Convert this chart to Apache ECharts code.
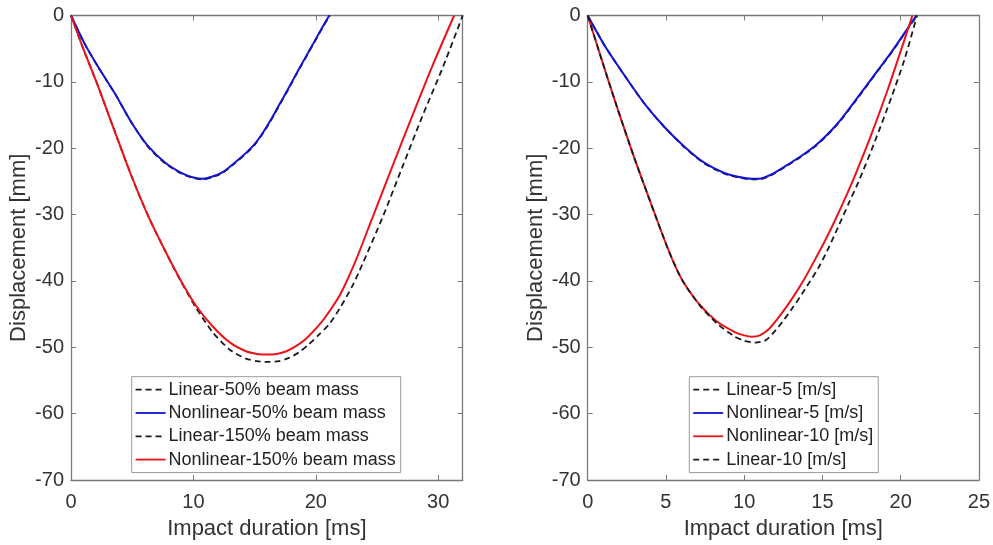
<!DOCTYPE html>
<html>
<head>
<meta charset="utf-8">
<script src="https://cdn.jsdelivr.net/npm/echarts@6/dist/echarts.min.js"></script>
<style>
html,body{margin:0;padding:0;background:#fff;}
#chart{width:993px;height:545px;}
</style>
</head>
<body>
<div id="chart"></div>
<script>
// ---- Data (t [ms], displacement [mm]) ----
const xTicksLeft = [0, 10, 20, 30];
const xTicksRight = [0, 5, 10, 15, 20, 25];
const yTicks = [0, -10, -20, -30, -40, -50, -60, -70];

const leftNames = ['Linear-50% beam mass', 'Nonlinear-50% beam mass', 'Linear-150% beam mass', 'Nonlinear-150% beam mass'];
const rightNames = ['Linear-5 [m/s]', 'Nonlinear-5 [m/s]', 'Nonlinear-10 [m/s]', 'Linear-10 [m/s]'];

const linear50 = [[0,0],[1.1,-4.2],[2.2,-7.7],[3.6,-11.8],[4.9,-16.0],[6.3,-19.8],[7.7,-22.3],[9.0,-23.8],[10.0,-24.5],[10.8,-24.7],[11.5,-24.4],[12.4,-23.7],[13.3,-22.4],[14.3,-20.8],[15.0,-19.5],[15.7,-17.7],[16.4,-15.6],[17.0,-13.6],[17.7,-11.3],[18.4,-8.9],[19.1,-6.6],[19.8,-4.3],[20.5,-2.0],[21.15,0]];
const nonlinear50 = [[0,0],[1.1,-4.2],[2.2,-7.7],[3.6,-11.8],[4.9,-16.0],[6.3,-19.7],[7.7,-22.2],[9.0,-23.7],[10.0,-24.4],[10.8,-24.6],[11.5,-24.3],[12.4,-23.6],[13.3,-22.3],[14.3,-20.7],[15.0,-19.4],[15.7,-17.6],[16.4,-15.5],[17.0,-13.5],[17.7,-11.2],[18.4,-8.8],[19.1,-6.5],[19.8,-4.2],[20.5,-1.9],[21.1,0]];
const linear150 = [[0,0],[1.0,-5.0],[2.2,-10.6],[3.6,-17.6],[4.9,-24.0],[6.3,-30.2],[7.7,-35.5],[8.9,-39.8],[10.2,-44.0],[11.6,-47.8],[13.0,-50.4],[14.3,-51.7],[15.2,-52.1],[16.2,-52.2],[17.0,-52.1],[17.8,-51.6],[18.6,-50.8],[19.4,-49.6],[20.2,-48.2],[21.1,-46.5],[22.0,-44.0],[23.0,-40.7],[23.8,-37.5],[25.5,-30.2],[27.1,-22.7],[28.7,-15.2],[30.4,-7.7],[32.0,0]];
const nonlinear150 = [[0,0],[1.0,-5.0],[2.2,-10.6],[3.6,-17.6],[4.9,-24.0],[6.3,-30.2],[7.7,-35.5],[8.9,-39.7],[10.2,-43.7],[11.6,-46.9],[13.0,-49.3],[14.3,-50.6],[15.2,-51.0],[16.0,-51.1],[16.8,-51.0],[17.6,-50.6],[18.4,-49.8],[19.2,-48.7],[20.0,-47.2],[20.8,-45.4],[22.0,-42.0],[23.2,-37.2],[24.6,-30.6],[26.2,-23.0],[27.8,-15.5],[29.5,-7.7],[31.3,0]];

const linear5 = [[0,0],[1.1,-4.6],[2.4,-9.2],[3.6,-13.2],[4.9,-16.8],[6.2,-19.9],[7.4,-22.2],[8.7,-23.8],[9.6,-24.4],[10.5,-24.7],[10.94,-24.7],[11.7,-24.1],[12.63,-22.8],[13.5,-21.5],[14.5,-19.8],[15.2,-18.3],[16.0,-16.3],[16.6,-14.5],[17.3,-12.3],[17.9,-10.4],[18.56,-8.3],[19.2,-6.3],[19.8,-4.3],[20.4,-2.2],[21.05,0]];
const nonlinear5 = [[0,0],[1.1,-4.6],[2.4,-9.2],[3.6,-13.2],[4.9,-16.8],[6.2,-19.8],[7.4,-22.1],[8.7,-23.7],[9.6,-24.3],[10.5,-24.6],[10.94,-24.6],[11.7,-24.0],[12.63,-22.7],[13.5,-21.4],[14.5,-19.7],[15.2,-18.2],[16.0,-16.2],[16.6,-14.4],[17.3,-12.2],[17.9,-10.3],[18.56,-8.2],[19.2,-6.2],[19.8,-4.2],[20.4,-2.1],[21.0,0]];
const nonlinear10 = [[0,0],[0.9,-6.7],[1.9,-14.0],[3.0,-21.6],[4.1,-28.7],[5.1,-35.0],[5.7,-38.3],[6.2,-40.5],[7.2,-43.7],[8.3,-46.2],[9.4,-47.7],[10.0,-48.2],[10.5,-48.4],[11.0,-48.2],[11.6,-47.2],[12.3,-45.2],[13.05,-42.7],[13.8,-39.9],[14.5,-36.9],[15.2,-33.8],[15.8,-30.9],[16.5,-27.3],[17.1,-24.0],[18.1,-18.1],[19.2,-11.0],[20.0,-5.4],[20.75,0]];
const linear10 = [[0,0],[0.9,-6.7],[1.9,-14.0],[3.0,-21.6],[4.1,-28.7],[5.1,-35.0],[5.7,-38.3],[6.2,-40.5],[7.2,-43.8],[8.3,-46.5],[9.4,-48.4],[10.0,-49.0],[10.7,-49.3],[11.4,-48.9],[12.2,-46.9],[13.05,-44.2],[13.9,-41.2],[14.75,-38.0],[15.4,-35.0],[16.0,-31.9],[16.7,-28.2],[17.3,-25.1],[18.35,-19.0],[19.4,-12.4],[20.25,-6.6],[21.05,0]];

// ---- Styles ----
const FONT = "'Liberation Sans', Arial, Helvetica, sans-serif";
const AXIS_COLOR = '#7a7a7a';
const TEXT_COLOR = '#333333';
const BLUE = '#1212d0';
const RED = '#ea1418';
const BLACK = '#1a1a1a';

function xAxisMain(gridIndex, max, interval, ticks) {
  return {
    type: 'value', gridIndex, position: 'bottom', min: 0, max, interval,
    name: 'Impact duration [ms]', nameLocation: 'middle', nameGap: 38,
    nameTextStyle: { fontFamily: FONT, fontSize: 22, color: TEXT_COLOR },
    axisLine: { show: true, onZero: false, lineStyle: { color: AXIS_COLOR, width: 1.3 } },
    axisTick: { show: true, inside: true, length: 5, lineStyle: { color: AXIS_COLOR } },
    axisLabel: { show: true, margin: 12, fontFamily: FONT, fontSize: 20, color: TEXT_COLOR,
      formatter: v => ticks.indexOf(v) >= 0 ? String(v) : '' },
    splitLine: { show: false }
  };
}
function xAxisTop(gridIndex, max, interval) {
  return {
    type: 'value', gridIndex, position: 'top', min: 0, max, interval,
    axisLine: { show: true, onZero: false, lineStyle: { color: AXIS_COLOR, width: 1.3 } },
    axisTick: { show: true, inside: true, length: 5, lineStyle: { color: AXIS_COLOR } },
    axisLabel: { show: false }, splitLine: { show: false }
  };
}
function yAxisMain(gridIndex) {
  return {
    type: 'value', gridIndex, position: 'left', min: -70, max: 0, interval: 10,
    name: 'Displacement [mm]', nameLocation: 'middle', nameGap: 41,
    nameTextStyle: { fontFamily: FONT, fontSize: 22, color: TEXT_COLOR },
    axisLine: { show: true, onZero: false, lineStyle: { color: AXIS_COLOR, width: 1.3 } },
    axisTick: { show: true, inside: true, length: 5, lineStyle: { color: AXIS_COLOR } },
    axisLabel: { show: true, margin: 7, fontFamily: FONT, fontSize: 20, color: TEXT_COLOR,
      formatter: v => yTicks.indexOf(v) >= 0 ? String(v) : '' },
    splitLine: { show: false }
  };
}
function yAxisRight(gridIndex) {
  return {
    type: 'value', gridIndex, position: 'right', min: -70, max: 0, interval: 10,
    axisLine: { show: true, onZero: false, lineStyle: { color: AXIS_COLOR, width: 1.3 } },
    axisTick: { show: true, inside: true, length: 5, lineStyle: { color: AXIS_COLOR } },
    axisLabel: { show: false }, splitLine: { show: false }
  };
}
function line(name, data, xi, yi, color, dashed, z) {
  return {
    type: 'line', name, data, xAxisIndex: xi, yAxisIndex: yi,
    symbol: 'none', showSymbol: false, smooth: 0.25, z,
    lineStyle: { color, width: dashed ? 1.8 : 2, type: dashed ? [6, 4] : 'solid' },
    itemStyle: { color },
    emphasis: { disabled: true }, animation: false
  };
}
function legend(names, left) {
  return {
    data: names, orient: 'vertical', left, top: 376.7,
    itemWidth: 30, itemHeight: 14, itemGap: 3.3,
    padding: [3, 5, 3, 3],
    backgroundColor: '#fff', borderColor: '#9a9a9a', borderWidth: 1, borderRadius: 0,
    selectedMode: false,
    itemStyle: { opacity: 0 },
    lineStyle: { width: 1.8 },
    textStyle: { fontFamily: FONT, fontSize: 18, color: '#222', lineHeight: 20, padding: [0, 0, 0, -2] }
  };
}

const chart = echarts.init(document.getElementById('chart'), null, { renderer: 'canvas' });
chart.setOption({
  backgroundColor: '#fff',
  animation: false,
  grid: [
    { left: 71, top: 15.5, width: 391.7, height: 466.8, containLabel: false },
    { left: 587.7, top: 15.5, width: 393, height: 466.8, containLabel: false }
  ],
  xAxis: [
    xAxisMain(0, 32, 10, xTicksLeft), xAxisTop(0, 32, 10),
    xAxisMain(1, 25, 5, xTicksRight), xAxisTop(1, 25, 5)
  ],
  yAxis: [yAxisMain(0), yAxisRight(0), yAxisMain(1), yAxisRight(1)],
  legend: [legend(leftNames, 131.7), legend(rightNames, 689.3)],
  series: [
    line(leftNames[0], linear50, 0, 0, BLACK, true, 2),
    line(leftNames[1], nonlinear50, 0, 0, BLUE, false, 3),
    line(leftNames[2], linear150, 0, 0, BLACK, true, 4),
    line(leftNames[3], nonlinear150, 0, 0, RED, false, 5),
    line(rightNames[0], linear5, 2, 2, BLACK, true, 2),
    line(rightNames[1], nonlinear5, 2, 2, BLUE, false, 3),
    line(rightNames[2], nonlinear10, 2, 2, RED, false, 4),
    line(rightNames[3], linear10, 2, 2, BLACK, true, 5)
  ]
});
</script>
</body>
</html>
